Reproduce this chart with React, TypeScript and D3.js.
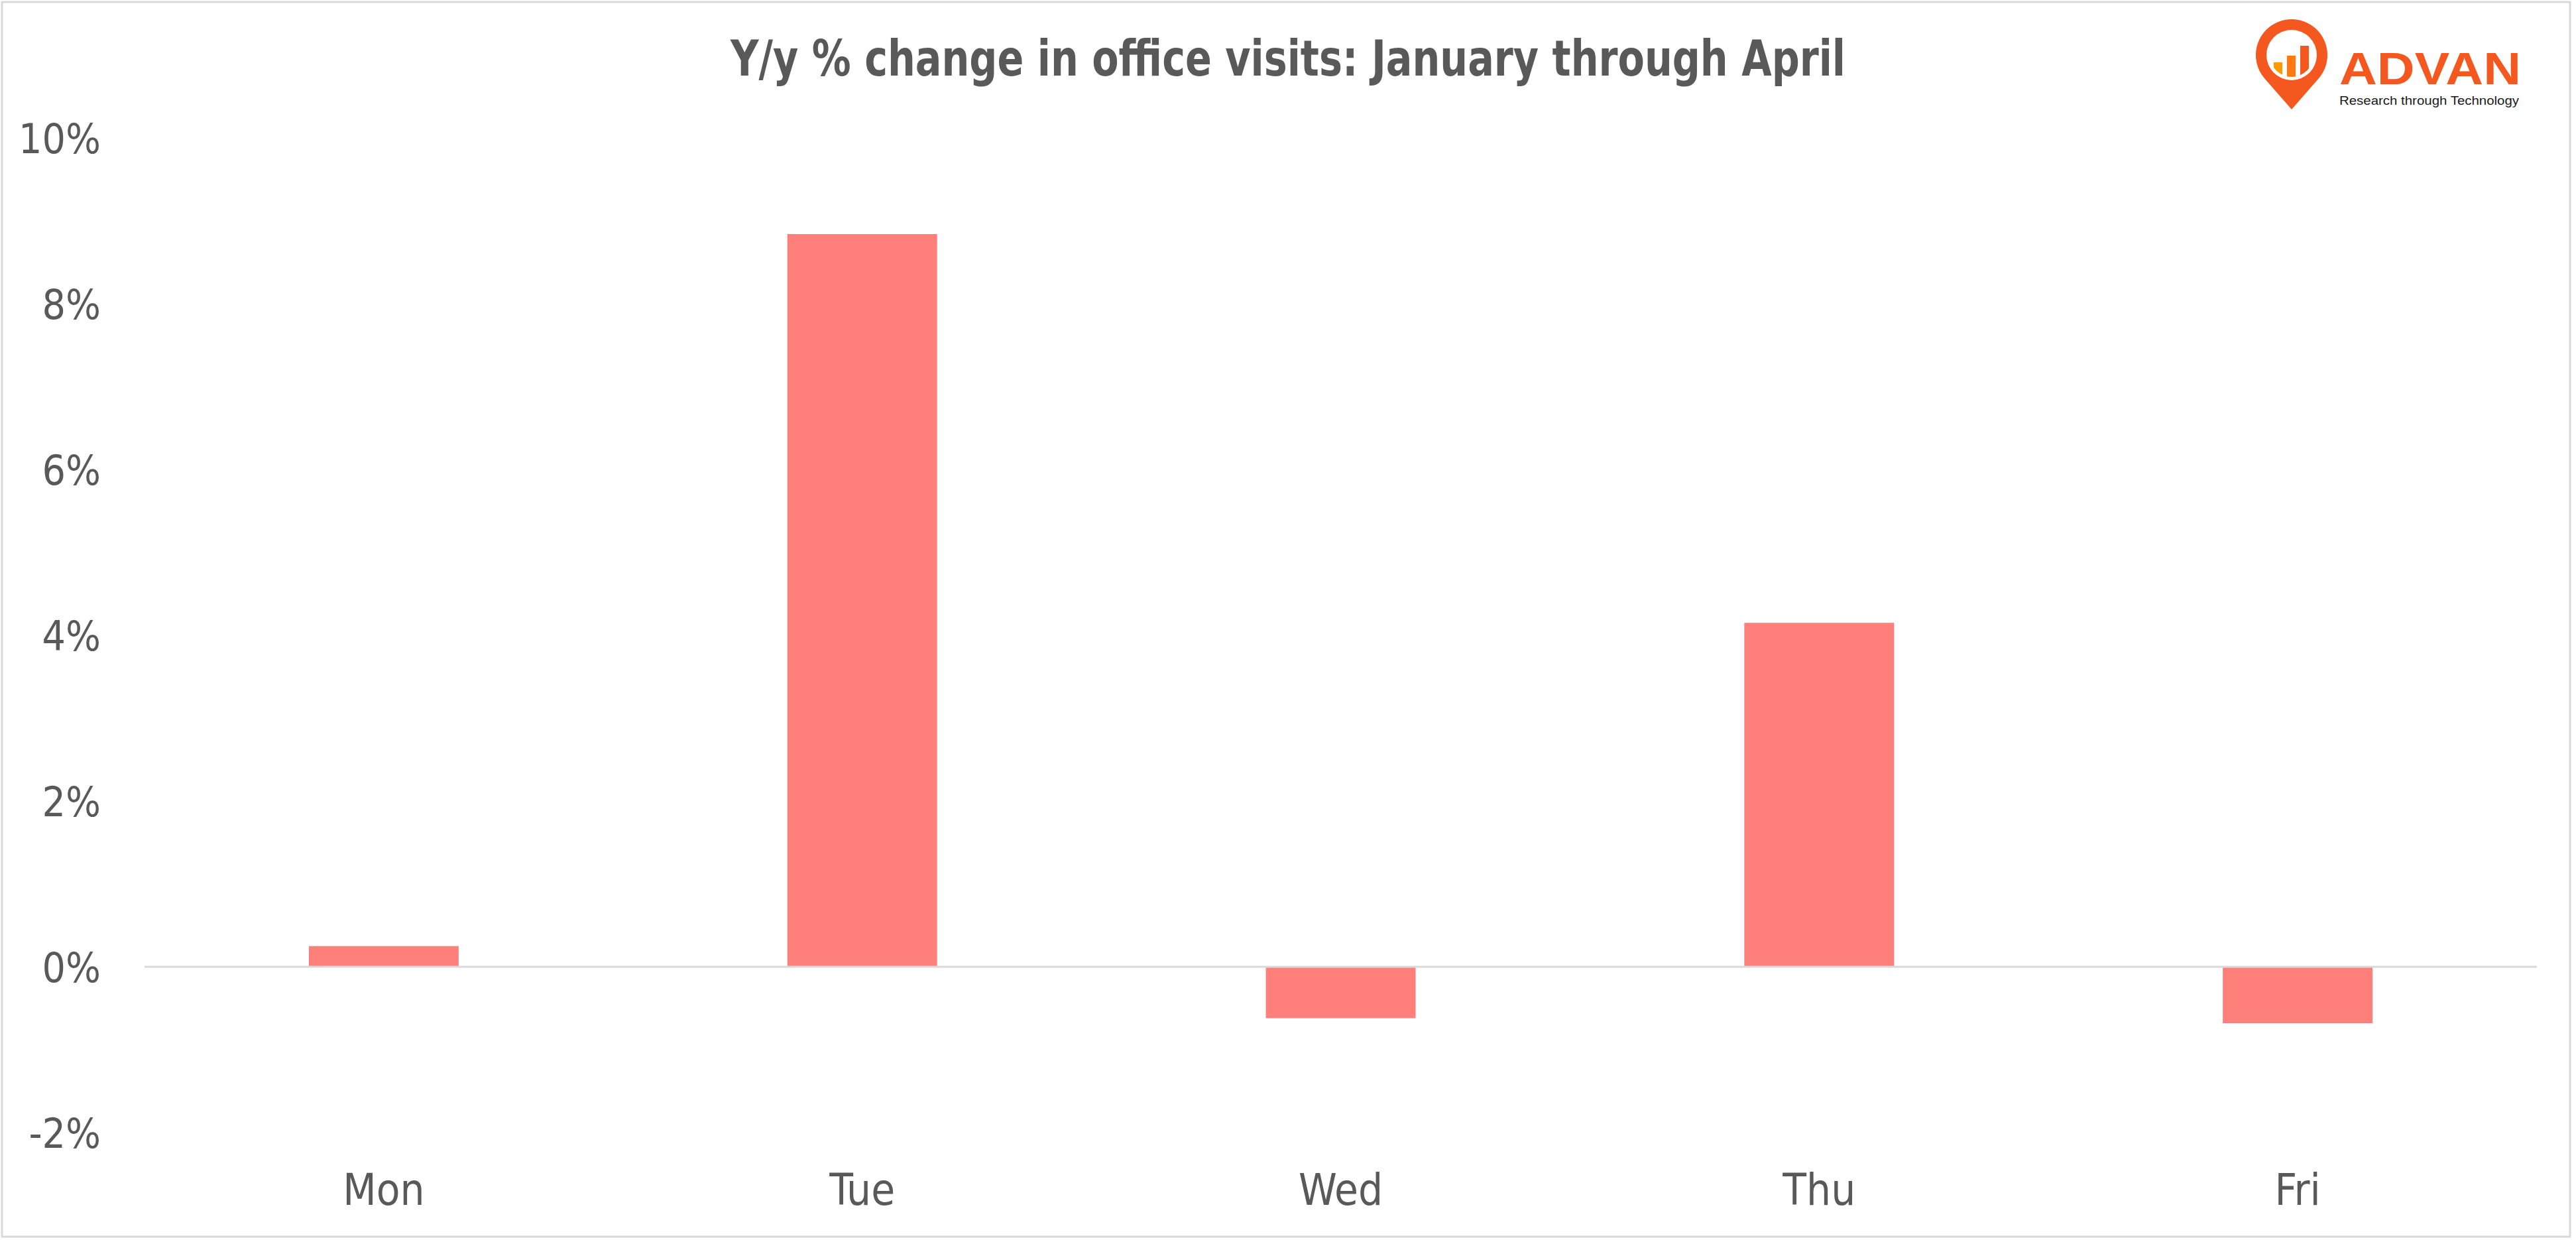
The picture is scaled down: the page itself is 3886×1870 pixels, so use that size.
import React from "react";
import * as d3 from "d3";

const categories = ["Mon", "Tue", "Wed", "Thu", "Fri"];
const values = [0.25, 8.84, -0.62, 4.15, -0.68];
const yTicks = [-2, 0, 2, 4, 6, 8, 10];
const title = "Y/y % change in office visits: January through April";

const W = 3886;
const H = 1870;
const TEXT = "#595959";
const BAR = "#FF7F7B";
const GRID = "#D9D9D9";
const NARROW = "'Liberation Sans Narrow', 'Arial Narrow', 'DejaVu Sans Condensed', sans-serif";

export default function App() {
  const x = d3
    .scaleBand<string>()
    .domain(categories)
    .range([218, 3827])
    .paddingInner(0.687)
    .paddingOuter(0.3435);
  const y = d3.scaleLinear().domain([-2, 10]).range([1708, 208]);

  const cx = 3457, cy = 83, r = 54, tipY = 165;
  const d = tipY - cy;
  const th = Math.acos(r / d);
  const tx = r * Math.sin(th), ty = r * Math.cos(th);
  const pinPath = `M${cx},${tipY} L${cx + tx},${cy + ty} A${r},${r} 0 1 0 ${cx - tx},${cy + ty} Z`;

  return (
    <svg
      width={W}
      height={H}
      style={{ position: "absolute", left: 0, top: 0, background: "#fff" }}
      xmlns="http://www.w3.org/2000/svg"
    >
      <rect x={0} y={0} width={W} height={H} fill="#fff" />
      <rect x={3} y={3} width={3874} height={1862} fill="none" stroke={GRID} strokeWidth={3} />

      <text
        x={W / 2}
        y={114}
        textAnchor="middle"
        fill={TEXT}
        fontFamily={NARROW}
        fontWeight="bold"
        fontSize={74}
        textLength={1682}
        lengthAdjust="spacingAndGlyphs"
      >
        {title}
      </text>

      {/* y-axis labels */}
      {yTicks.map((t) => (
        <text
          key={t}
          x={152}
          y={y(t) + 23}
          textAnchor="end"
          fill={TEXT}
          fontFamily={NARROW}
          fontSize={62}
        >
          {`${t}%`}
        </text>
      ))}

      {/* bars */}
      {categories.map((c, i) => {
        const v = values[i];
        const y0 = y(Math.max(0, v));
        const y1 = y(Math.min(0, v));
        return (
          <rect key={c} x={x(c)} y={y0} width={x.bandwidth()} height={y1 - y0} fill={BAR} />
        );
      })}

      {/* zero line */}
      <line x1={x.range()[0]} x2={x.range()[1]} y1={y(0)} y2={y(0)} stroke={GRID} strokeWidth={3} />

      {/* x labels */}
      {categories.map((c) => (
        <text
          key={c}
          x={(x(c) as number) + x.bandwidth() / 2}
          y={1817}
          textAnchor="middle"
          fill={TEXT}
          fontFamily={NARROW}
          fontSize={65}
        >
          {c}
        </text>
      ))}

      {/* logo */}
      <g>
        <defs>
          <clipPath id="innerClip">
            <circle cx={cx} cy={cy} r={33} />
          </clipPath>
        </defs>
        <path d={pinPath} fill="#F4581F" />
        <circle cx={cx} cy={cy} r={38} fill="#fff" />
        <g clipPath="url(#innerClip)">
          <rect x={3430} y={94} width={13} height={40} fill="#FF9A00" />
          <rect x={3450} y={84} width={13} height={50} fill="#FF7A10" />
          <rect x={3470} y={69} width={13} height={65} fill="#F4581F" />
        </g>
        <text
          x={3529}
          y={127}
          fill="#F4581F"
          fontFamily="'Liberation Sans', Arial, sans-serif"
          fontWeight={700}
          fontSize={68}
          textLength={274}
          lengthAdjust="spacingAndGlyphs"
        >
          ADVAN
        </text>
        <text
          x={3529}
          y={158}
          fill="#1a1a1a"
          fontFamily="'Liberation Sans', Arial, sans-serif"
          fontSize={18}
          textLength={271}
          lengthAdjust="spacingAndGlyphs"
        >
          Research through Technology
        </text>
      </g>
    </svg>
  );
}
